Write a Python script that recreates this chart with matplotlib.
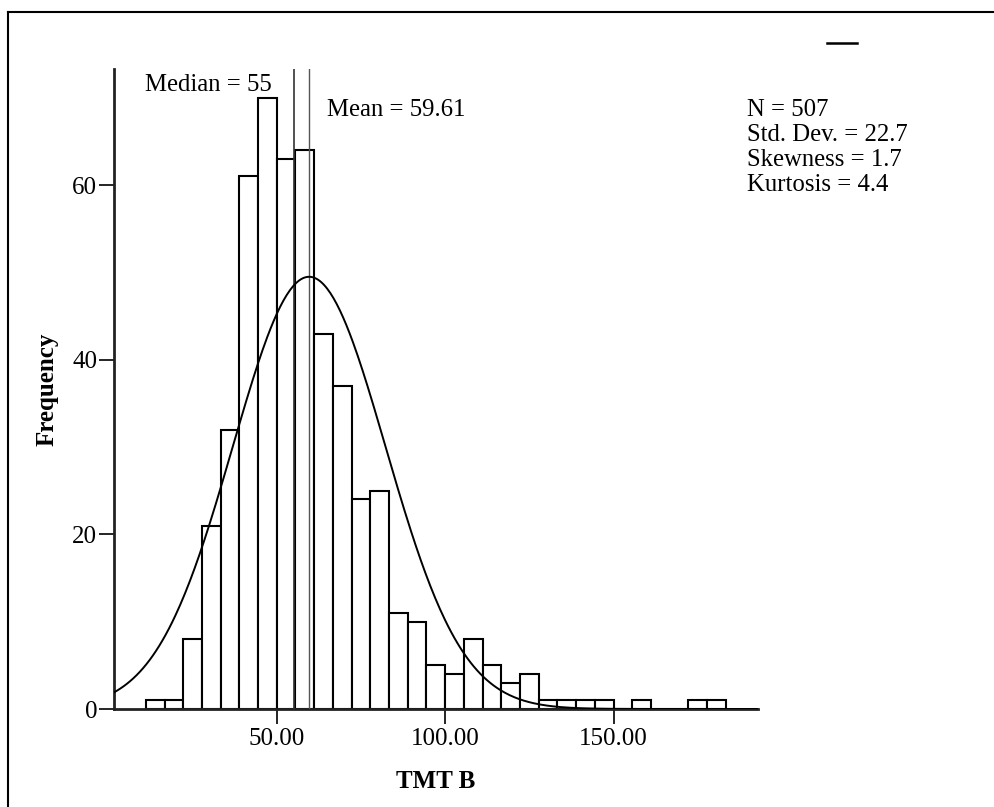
import numpy as np
import matplotlib

matplotlib.use("Agg")
import matplotlib.pyplot as plt
from matplotlib.lines import Line2D

# histogram of TMT B (SPSS style), bins of 50/9 aligned on 50 and 100
BIN_WIDTH = 50 / 9
FIRST_EDGE = 50 - 7 * BIN_WIDTH
COUNTS = [1, 1, 8, 21, 32, 61, 70, 63, 64, 43, 37, 24, 25, 11, 10, 5,
          4, 8, 5, 3, 4, 1, 1, 1, 1, 0, 1, 0, 0, 1, 1]

N_CASES = 507
MEAN = 59.61
MEDIAN = 55
STD_DEV = 22.7
SKEWNESS = 1.7
KURTOSIS = 4.4

X_TICKS = [50, 100, 150]
X_TICK_LABELS = ["50.00", "100.00", "150.00"]
Y_TICKS = [0, 20, 40, 60]

FONT = "Liberation Serif"
W, H = 995, 807


def fig_x(px):
    return px / W


def fig_y(py):
    return 1 - py / H


def main():
    plt.rcParams.update({
        "font.family": [FONT, "DejaVu Serif"],
        "font.size": 17,
    })
    fig = plt.figure(figsize=(W / 100, H / 100), dpi=100)
    ax = fig.add_axes([fig_x(114), fig_y(709), fig_x(758) - fig_x(114), fig_y(69) - fig_y(709)])

    lefts = FIRST_EDGE + BIN_WIDTH * np.arange(len(COUNTS))
    ax.bar(lefts, COUNTS, width=BIN_WIDTH, align="edge", facecolor="white",
           edgecolor="black", linewidth=1.5, zorder=2)

    xlim = (1.66, 192.9)
    xs = np.linspace(xlim[0], xlim[1], 400)
    curve = N_CASES * BIN_WIDTH / (STD_DEV * np.sqrt(2 * np.pi)) * np.exp(-0.5 * ((xs - MEAN) / STD_DEV) ** 2)
    ax.plot(xs, curve, color="black", linewidth=1.4, zorder=4)

    ax.axvline(MEDIAN, color="#333333", linewidth=1.2, zorder=3)
    ax.axvline(MEAN, color="#555555", linewidth=1.0, zorder=3)
    ax.text(10.9, 71.5, f"Median = {MEDIAN}", va="center", ha="left", fontsize=17.8)
    ax.text(64.8, 68.6, f"Mean = {MEAN}", va="center", ha="left", fontsize=17.8)

    stats = [f"N = {N_CASES}", f"Std. Dev. = {STD_DEV}",
             f"Skewness = {SKEWNESS}", f"Kurtosis = {KURTOSIS}"]
    for i, line in enumerate(stats):
        fig.text(fig_x(746.7), fig_y(110 + 25 * i), line, va="center", ha="left", fontsize=17.8)

    ax.set_xlim(*xlim)
    ax.set_ylim(0, 73.3)
    ax.set_xticks(X_TICKS)
    ax.set_xticklabels(X_TICK_LABELS)
    ax.set_yticks(Y_TICKS)
    ax.tick_params(direction="out", length=11, width=1.2, color="black", labelsize=18)
    ax.tick_params(axis="x", pad=3)
    ax.tick_params(axis="y", pad=1)
    ax.set_xlabel("TMT B", fontweight="bold", fontsize=18, labelpad=14)
    ax.set_ylabel("Frequency", fontweight="bold", fontsize=18, labelpad=10)

    for side in ["top", "right"]:
        ax.spines[side].set_visible(False)
    for side in ["left", "bottom"]:
        ax.spines[side].set_linewidth(2.0)
        ax.spines[side].set_color("#222222")

    # page frame and stray legend dash from the original export
    fig.add_artist(Line2D([fig_x(8), fig_x(8)], [0, fig_y(12)], color="black", linewidth=1.5))
    fig.add_artist(Line2D([fig_x(8), 1], [fig_y(12), fig_y(12)], color="black", linewidth=1.5))
    fig.add_artist(Line2D([fig_x(827), fig_x(857)], [fig_y(43), fig_y(43)], color="black", linewidth=1.8))

    fig.savefig("out.png", dpi=100, facecolor="white")
    plt.close(fig)


if __name__ == "__main__":
    main()
